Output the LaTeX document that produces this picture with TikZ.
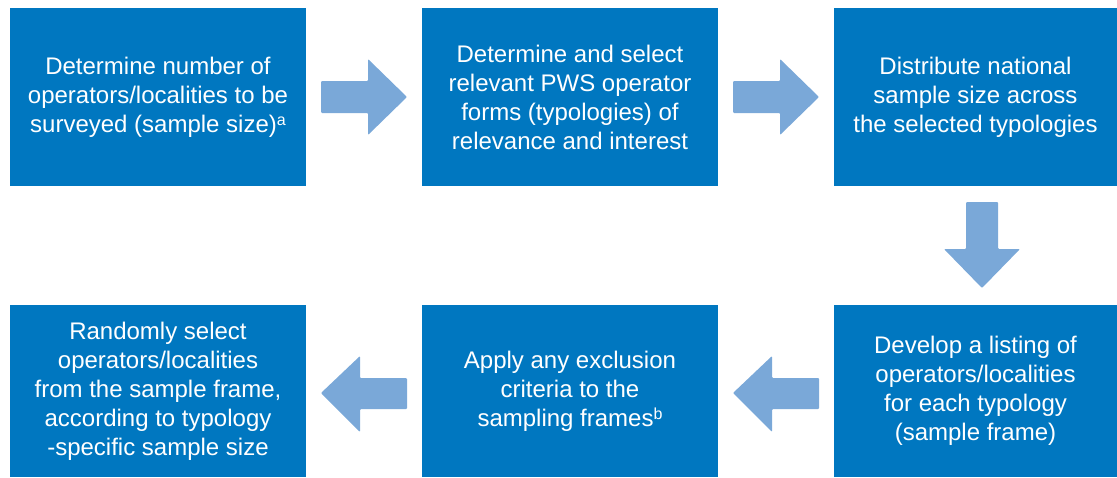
\documentclass[tikz,border=0pt]{standalone}
\usepackage{fontspec}
\setmainfont{Liberation Sans}
\definecolor{boxblue}{RGB}{0,119,192}
\definecolor{arrowblue}{RGB}{122,168,216}
\newcommand{\supmark}[1]{\raisebox{0.3em}{\fontsize{16}{16}\selectfont #1}}
\begin{document}
\begin{tikzpicture}[x=1pt,y=-1pt,
  box/.style={fill=boxblue, text=white, align=center, inner sep=0pt,
    font=\fontsize{24}{29}\selectfont},
  blockarrow/.style={fill=arrowblue, rounded corners=1pt}]
\useasboundingbox (0,0) rectangle (1117,477);
\node[box, minimum width=296pt, minimum height=178pt] (b1) at (158,97)
  {Determine number of\\operators/localities to be\\surveyed (sample size)\supmark{a}};
\node[box, minimum width=296pt, minimum height=178pt] (b2) at (570,97)
  {Determine and select\\relevant PWS operator\\forms (typologies) of\\relevance and interest};
\node[box, minimum width=283pt, minimum height=178pt] (b3) at (975.5,97)
  {Distribute national\\sample size across\\the selected typologies};
\node[box, minimum width=283pt, minimum height=172pt] (b4) at (975.5,391)
  {Develop a listing of\\operators/localities\\for each typology\\(sample frame)};
\node[box, minimum width=296pt, minimum height=172pt] (b5) at (570,391)
  {Apply any exclusion\\criteria to the\\sampling frames\supmark{b}};
\node[box, minimum width=296pt, minimum height=172pt] (b6) at (158,391)
  {Randomly select\\operators/localities\\from the sample frame,\\according to typology\\-specific sample size};
% right arrows
\fill[blockarrow] (321,81) -- (368,81) -- (368,59) -- (407,97) -- (368,135) -- (368,113) -- (321,113) -- cycle;
\fill[blockarrow] (733,81) -- (780,81) -- (780,59) -- (819,97) -- (780,135) -- (780,113) -- (733,113) -- cycle;
% down arrow
\fill[blockarrow] (966,202) -- (998,202) -- (998,249) -- (1020,249) -- (982,288) -- (944,249) -- (966,249) -- cycle;
% left arrows
\fill[blockarrow] (407,378) -- (360,378) -- (360,356) -- (321,393) -- (360,432) -- (360,409) -- (407,409) -- cycle;
\fill[blockarrow] (819,378) -- (772,378) -- (772,356) -- (733,393) -- (772,432) -- (772,409) -- (819,409) -- cycle;
\end{tikzpicture}
\end{document}
